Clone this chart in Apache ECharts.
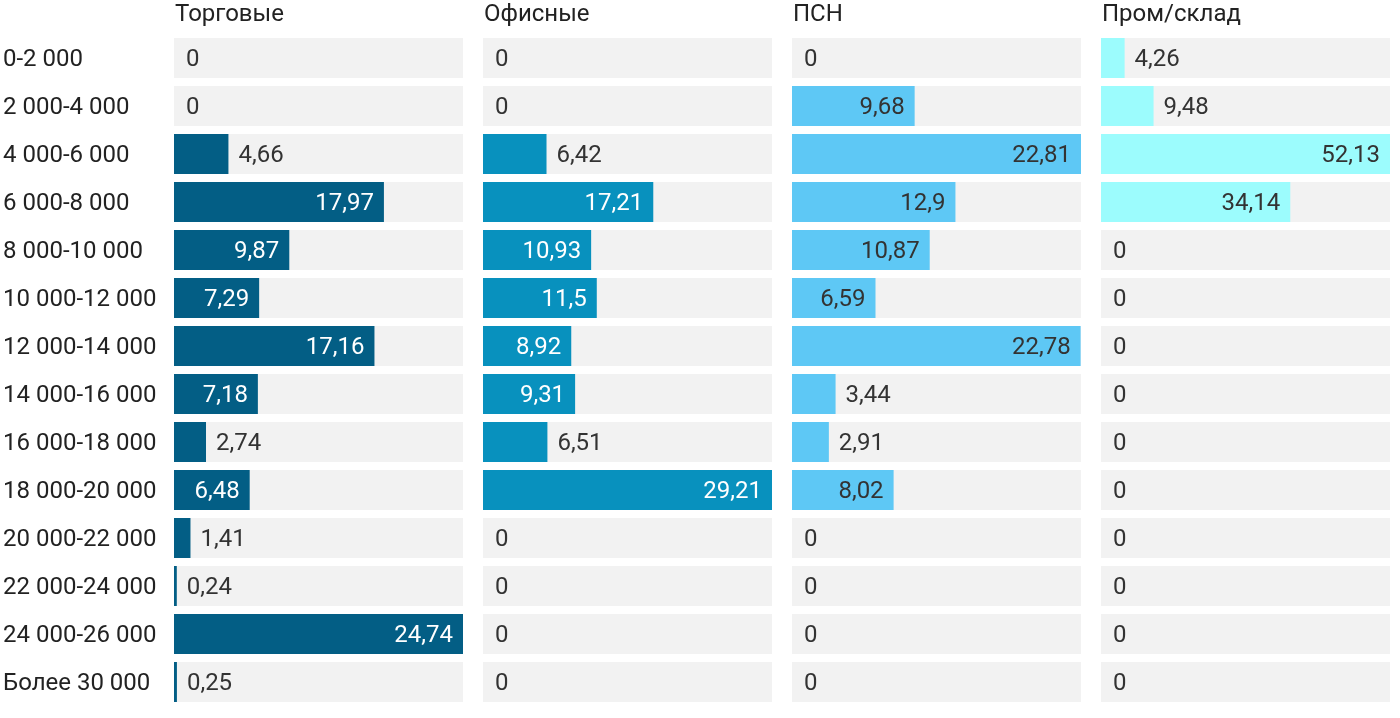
<!DOCTYPE html>
<html><head><meta charset="utf-8">
<script src="https://cdn.jsdelivr.net/npm/echarts@6/dist/echarts.min.js"></script>
<style>html,body{margin:0;padding:0;background:#fff}#c{width:1400px;height:718px}</style>
</head><body><div id="c"></div>
<script>
const categories = ['0-2 000','2 000-4 000','4 000-6 000','6 000-8 000','8 000-10 000','10 000-12 000','12 000-14 000','14 000-16 000','16 000-18 000','18 000-20 000','20 000-22 000','22 000-24 000','24 000-26 000','Более 30 000'];
const panelNames = ['Торговые','Офисные','ПСН','Пром/склад'];
const torgovye = [0,0,4.66,17.97,9.87,7.29,17.16,7.18,2.74,6.48,1.41,0.24,24.74,0.25];
const ofisnye = [0,0,6.42,17.21,10.93,11.5,8.92,9.31,6.51,29.21,0,0,0,0];
const psn = [0,9.68,22.81,12.9,10.87,6.59,22.78,3.44,2.91,8.02,0,0,0,0];
const promSklad = [4.26,9.48,52.13,34.14,0,0,0,0,0,0,0,0,0,0];
const panelData = [torgovye, ofisnye, psn, promSklad];
const colors = ['#035e85','#0891be','#5ec8f5','#9cfcfd'];
const insideLabelColors = ['#ffffff','#ffffff','#333333','#333333'];

const chart = echarts.init(document.getElementById('c'));
const FS = 24;
const panelW = 289, left0 = 174, step = 309, gridTop = 34, gridBottom = 12;
const grids = [], xAxes = [], yAxes = [], series = [], titles = [];
panelData.forEach((d, i) => {
  const max = Math.max(...d);
  grids.push({left: left0 + i*step, width: panelW, top: gridTop, bottom: gridBottom});
  xAxes.push({type:'value', gridIndex:i, min:0, max:max, show:false});
  yAxes.push({type:'category', gridIndex:i, data:categories, inverse:true,
    axisLine:{show:false}, axisTick:{show:false},
    axisLabel:{show:i===0, align:'left', margin:171,
      formatter: v => '{a|' + v + '}',
      rich:{a:{fontSize:FS, color:'#222', fontFamily:'Roboto', padding:[4,0,0,0]}}}});
  titles.push({text:panelNames[i], left:left0 + 1 + i*step, top:3, padding:0, textStyle:{fontSize:FS, fontWeight:'normal', color:'#222', fontFamily:'Roboto'}});
  series.push({
    type:'bar', xAxisIndex:i, yAxisIndex:i, barWidth:40,
    showBackground:true, backgroundStyle:{color:'#f2f2f2'},
    itemStyle:{color:colors[i]},
    data: d.map(v => {
      const px = v / max * panelW;
      const inside = px > 70;
      return {value:v, label:{show:true, position: inside ? 'insideRight' : 'right', distance: inside ? 10 : (v===0 ? 12 : 10),
        offset:[0,1.5],
        color: inside ? insideLabelColors[i] : '#333', fontSize:FS, fontFamily:'Roboto',
        formatter: String(v).replace('.', ',')}};
    })
  });
});
chart.setOption({animation:false, title:titles, grid:grids, xAxis:xAxes, yAxis:yAxes, series:series});
</script></body></html>
